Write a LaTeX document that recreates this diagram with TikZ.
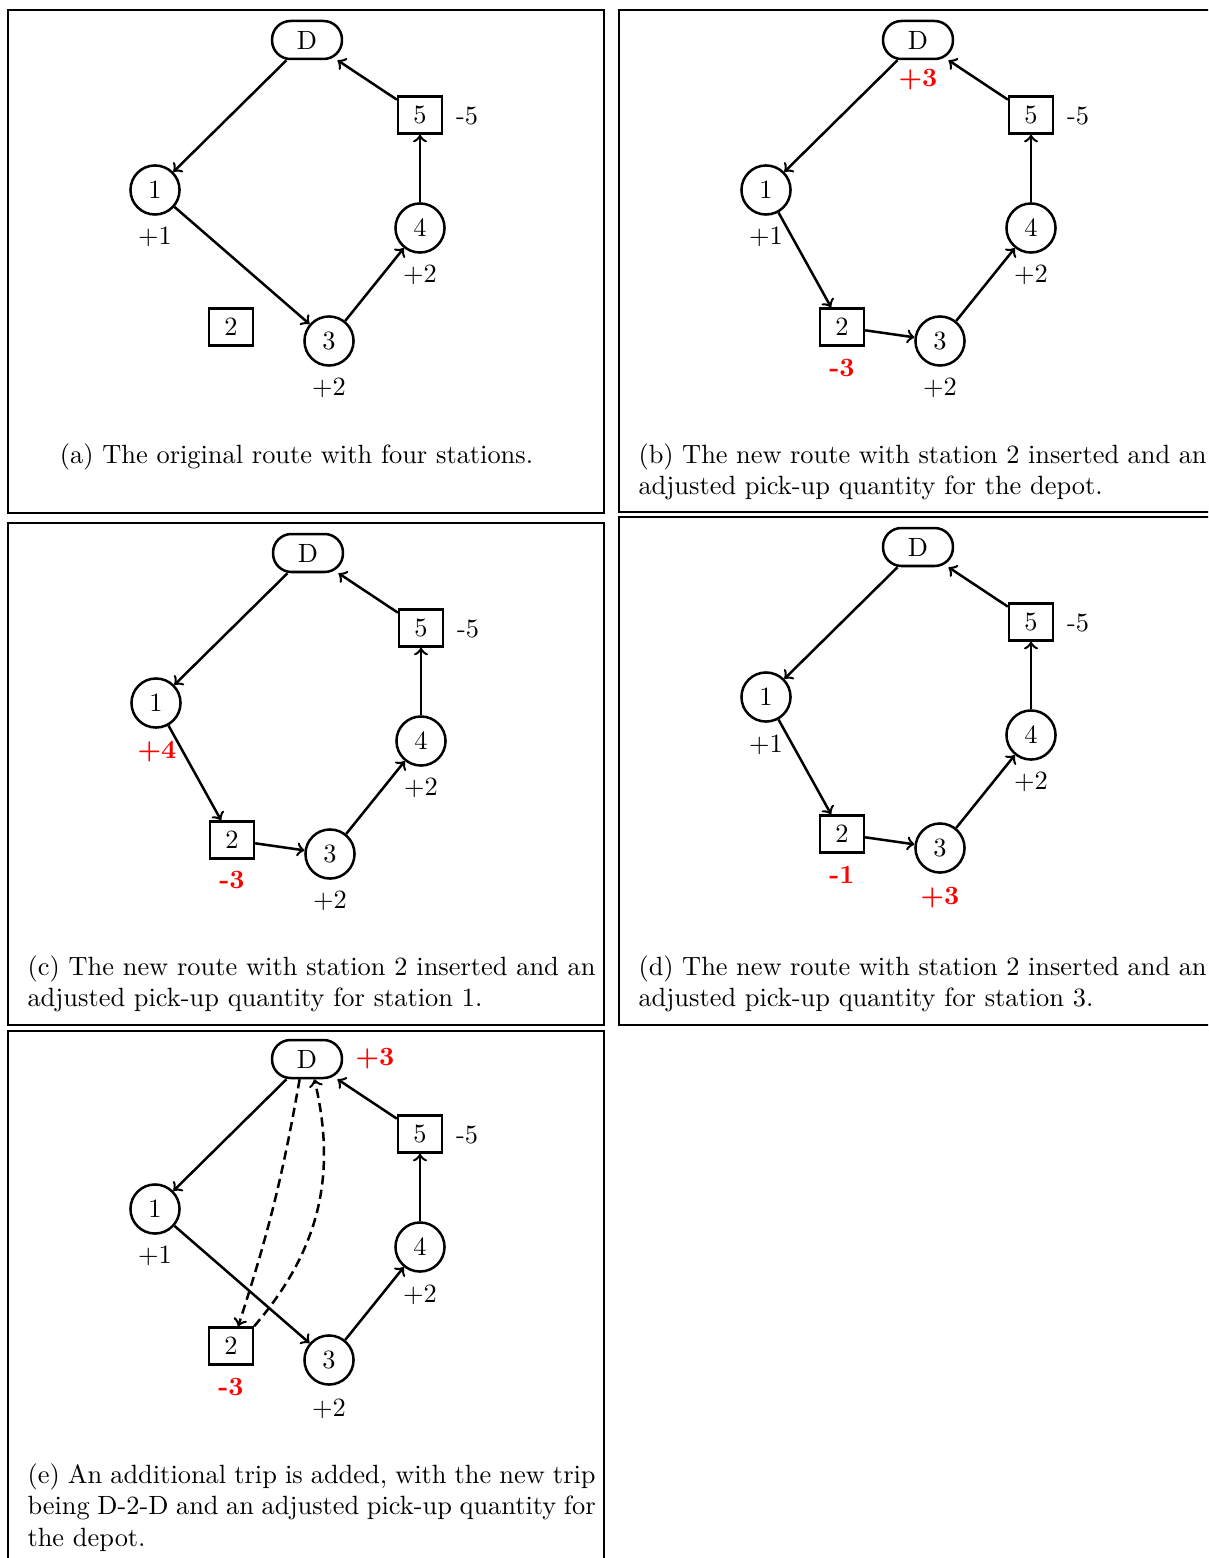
\documentclass[tikz,border=0pt]{standalone}
\begin{document}
\begin{tikzpicture}[x=0.379pt, y=-0.379pt]
% Route repair steps, coordinates in pixels of the page (y downwards)
\providecommand{\routeLineWidth}{0.95pt}
\providecommand{\frameLineWidth}{0.8pt}
\providecommand{\newQtyColor}{red}
\tikzset{
  station/.style={circle, draw, line width=\routeLineWidth, minimum size=18.6pt, inner sep=0pt},
  stationsq/.style={rectangle, draw, line width=\routeLineWidth, minimum width=16.6pt, minimum height=14pt, inner sep=0pt},
  depot/.style={rectangle, rounded corners=7pt, draw, line width=\routeLineWidth, minimum width=26.5pt, minimum height=14.4pt, inner sep=0pt},
  qty/.style={inner sep=0pt},
  newqty/.style={inner sep=0pt, text=\newQtyColor, font=\bfseries},
  route/.style={->, line width=\routeLineWidth},
  extratrip/.style={->, line width=\routeLineWidth, dash pattern=on 3.5pt off 2pt},
  panel/.style={line width=\frameLineWidth},
  caption/.style={inner sep=0pt},
  captionpar/.style={inner sep=0pt, text width=215.3pt, align=justify}
}
\useasboundingbox (0,0) rectangle (1208,1558);
\clip (0,0) rectangle (1208,1558);
% (a) original route
\begin{scope}[shift={(0,0)}]
  \draw[panel] (8,10) rectangle (604,513);
  \node[depot] (aD) at (307,40) {D};
  \node[station] (a1) at (155,190) {1};
  \node[stationsq] (a2) at (231,327) {2};
  \node[station] (a3) at (329,341) {3};
  \node[station] (a4) at (420,228) {4};
  \node[stationsq] (a5) at (420,115) {5};
  \node[qty] (aq1) at (155,237) {$+1$};
  \node[qty] (aq3) at (329,388) {$+2$};
  \node[qty] (aq4) at (420,275) {$+2$};
  \node[qty] (aq5) at (467,116) {-5};
  \draw[route] (aD) -- (a1);
  \draw[route] (a1) -- (a3);
  \draw[route] (a3) -- (a4);
  \draw[route] (a4) -- (a5);
  \draw[route] (a5) -- (aD);
  \node[caption, anchor=base] (acap) at (296.5,463) {(a) The original route with four stations.};
\end{scope}
% (b) station 2 inserted, depot adjusted
\begin{scope}[shift={(611,0)}]
  \draw[panel] (8,10) rectangle (604,512);
  \node[depot] (bD) at (307,40) {D};
  \node[station] (b1) at (155,190) {1};
  \node[stationsq] (b2) at (231,327) {2};
  \node[station] (b3) at (329,341) {3};
  \node[station] (b4) at (420,228) {4};
  \node[stationsq] (b5) at (420,115) {5};
  \node[newqty] (bqD) at (307,80) {+3};
  \node[qty] (bq1) at (155,237) {$+1$};
  \node[newqty] (bq2) at (231,368) {-3};
  \node[qty] (bq3) at (329,388) {$+2$};
  \node[qty] (bq4) at (420,275) {$+2$};
  \node[qty] (bq5) at (467,116) {-5};
  \draw[route] (bD) -- (b1);
  \draw[route] (b1) -- (b2);
  \draw[route] (b2) -- (b3);
  \draw[route] (b3) -- (b4);
  \draw[route] (b4) -- (b5);
  \draw[route] (b5) -- (bD);
  \node[captionpar, anchor=base west] (bcap) at (27,463) {(b) The new route with station 2 inserted and an\linebreak adjusted pick-up quantity for the depot.};
\end{scope}
% (c) station 2 inserted, station 1 adjusted
\begin{scope}[shift={(1,513)}]
  \draw[panel] (7,10) rectangle (603,512);
  \node[depot] (cD) at (307,40) {D};
  \node[station] (c1) at (155,190) {1};
  \node[stationsq] (c2) at (231,327) {2};
  \node[station] (c3) at (329,341) {3};
  \node[station] (c4) at (420,228) {4};
  \node[stationsq] (c5) at (420,115) {5};
  \node[newqty] (cq1) at (156,239) {+4};
  \node[newqty] (cq2) at (231,367) {-3};
  \node[qty] (cq3) at (329,388) {$+2$};
  \node[qty] (cq4) at (420,275) {$+2$};
  \node[qty] (cq5) at (467,116) {-5};
  \draw[route] (cD) -- (c1);
  \draw[route] (c1) -- (c2);
  \draw[route] (c2) -- (c3);
  \draw[route] (c3) -- (c4);
  \draw[route] (c4) -- (c5);
  \draw[route] (c5) -- (cD);
  \node[captionpar, anchor=base west] (ccap) at (26,462) {(c) The new route with station 2 inserted and an\linebreak adjusted pick-up quantity for station 1.};
\end{scope}
% (d) station 2 inserted, station 3 adjusted
\begin{scope}[shift={(611,507)}]
  \draw[panel] (8,10) rectangle (604,518);
  \node[depot] (dD) at (307,40) {D};
  \node[station] (d1) at (155,190) {1};
  \node[stationsq] (d2) at (231,327) {2};
  \node[station] (d3) at (329,341) {3};
  \node[station] (d4) at (420,228) {4};
  \node[stationsq] (d5) at (420,115) {5};
  \node[qty] (dq1) at (155,238) {$+1$};
  \node[newqty] (dq2) at (231,368) {-1};
  \node[newqty] (dq3) at (329,391) {+3};
  \node[qty] (dq4) at (420,275) {$+2$};
  \node[qty] (dq5) at (467,116) {-5};
  \draw[route] (dD) -- (d1);
  \draw[route] (d1) -- (d2);
  \draw[route] (d2) -- (d3);
  \draw[route] (d3) -- (d4);
  \draw[route] (d4) -- (d5);
  \draw[route] (d5) -- (dD);
  \node[captionpar, anchor=base west] (dcap) at (27,468) {(d) The new route with station 2 inserted and an\linebreak adjusted pick-up quantity for station 3.};
\end{scope}
% (e) extra trip D-2-D
\begin{scope}[shift={(0,1019)}]
  \draw[panel] (8,12) rectangle (604,560);
  \node[depot] (eD) at (307,40) {D};
  \node[station] (e1) at (155,190) {1};
  \node[stationsq] (e2) at (231,327) {2};
  \node[station] (e3) at (329,341) {3};
  \node[station] (e4) at (420,228) {4};
  \node[stationsq] (e5) at (420,115) {5};
  \node[newqty] (eqD) at (375,40) {+3};
  \node[qty] (eq1) at (155,237) {$+1$};
  \node[newqty] (eq2) at (231,368) {-3};
  \node[qty] (eq3) at (329,390) {$+2$};
  \node[qty] (eq4) at (420,276) {$+2$};
  \node[qty] (eq5) at (467,116) {-5};
  \draw[route] (eD) -- (e1);
  \draw[route] (e1) -- (e3);
  \draw[route] (e3) -- (e4);
  \draw[route] (e4) -- (e5);
  \draw[route] (e5) -- (eD);
  % the new trip
  \draw[extratrip] (eD.250) to[bend left=4] (e2.70);
  \draw[extratrip] (e2.north east) to[bend right=27] (eD.290);
  \node[captionpar, anchor=base west] (ecap) at (27,464) {(e) An additional trip is added, with the new trip\linebreak being D-2-D and an adjusted pick-up quantity for\linebreak the depot.};
\end{scope}
\end{tikzpicture}
\end{document}
